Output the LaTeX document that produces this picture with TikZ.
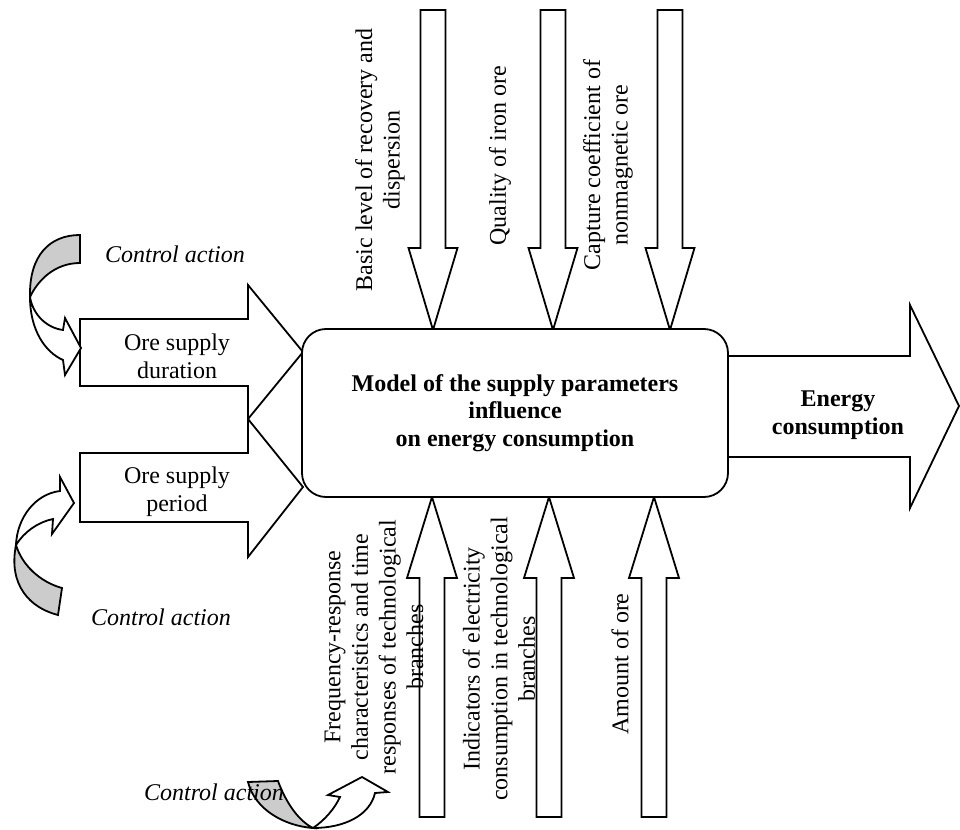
\documentclass[tikz,border=0pt]{standalone}
\usepackage{fontspec}
\setmainfont{Liberation Serif}
\usepackage{tikz}

\tikzset{
  block/.style={draw, fill=white, line width=0.9pt, line join=miter},
  curl/.style={draw, line width=0.9pt, line join=miter},
  lbl/.style={font=\fontsize{12}{13.8}\selectfont, align=center, inner sep=0pt},
  vlbl/.style={lbl, rotate=90},
  boldlbl/.style={lbl, font=\fontsize{12}{13.8}\selectfont\bfseries},
  ctrl/.style={font=\fontsize{12}{13.8}\selectfont\itshape, inner sep=0pt}
}

\begin{document}
\begin{tikzpicture}[x=0.5pt,y=-0.5pt]
\useasboundingbox (0,0) rectangle (960,830);
% Inputs from above
\foreach \x in {433,553,670}
  \draw[block] (\x-12.5,10) -- (\x+12.5,10) -- (\x+12.5,248) -- (\x+24.5,248) -- (\x,330) -- (\x-24.5,248) -- (\x-12.5,248) -- cycle;
% Inputs from below
\foreach \x in {432,549,654}
  \draw[block] (\x-12.5,817) -- (\x-12.5,578) -- (\x-25,578) -- (\x,497) -- (\x+25,578) -- (\x+12.5,578) -- (\x+12.5,817) -- cycle;
% Ore supply arrows
\draw[block] (80,319) -- (248,319) -- (248,285) -- (303,352) -- (248,419) -- (248,386) -- (80,386) -- cycle;
\draw[block] (80,453) -- (248,453) -- (248,419) -- (303,487) -- (248,557) -- (248,522) -- (80,522) -- cycle;
% Output
\draw[block] (728,356) -- (910,356) -- (910,305) -- (959,406) -- (910,508) -- (910,457) -- (728,457);
% Control actions
\draw[curl, fill=gray!40] (80,235) .. controls (50,235) and (29,255) .. (30,297) .. controls (38,280) and (55,263) .. (80,263) -- cycle;
\draw[curl, fill=white] (30,297) .. controls (33,315) and (47,328) .. (63,330) -- (65,318) -- (81,348) -- (65,375) -- (63,360) .. controls (45,352) and (30,330) .. (30,297) -- cycle;
\draw[curl, fill=gray!40] (16,545) .. controls (22,565) and (40,582) .. (62,588) -- (58,615) .. controls (30,608) and (8,585) .. (16,545) -- cycle;
\draw[curl, fill=white] (16,545) .. controls (17,518) and (35,494) .. (60,491) -- (60,477) -- (74,503) -- (52,534) -- (53,519) .. controls (38,522) and (24,532) .. (16,545) -- cycle;
\draw[curl, fill=gray!40] (248,782) -- (278,781) .. controls (285,800) and (297,820) .. (313,828) .. controls (285,826) and (255,810) .. (248,782) -- cycle;
\draw[curl, fill=white] (313,828) .. controls (325,820) and (335,808) .. (340,797) -- (328,795) -- (362,777) -- (388,792) -- (375,793) .. controls (370,815) and (345,828) .. (313,828) -- cycle;
% Model block
\node[draw, fill=white, line width=0.9pt, rounded corners=12pt, minimum width=213pt, minimum height=84pt, boldlbl] (model) at (515,413)
  {Model of the supply parameters\\influence\\on energy consumption};
% Labels
\node[vlbl] (recovery) at (380,160) {Basic level of recovery and\\dispersion};
\node[vlbl] (quality) at (500,156) {Quality of iron ore};
\node[vlbl] (capture) at (608,165) {Capture coefficient of\\nonmagnetic ore};
\node[vlbl] (freq) at (374,647) {Frequency-response\\characteristics and time\\responses of technological\\branches};
\node[vlbl] (indic) at (499,659) {Indicators of electricity\\consumption in technological\\branches};
\node[vlbl] (amount) at (620,664) {Amount of ore};
\node[lbl] (duration) at (177,356) {Ore supply\\duration};
\node[lbl] (period) at (177,492) {Ore supply\\period};
\node[boldlbl] (energy) at (838,415) {Energy\\consumption};
\node[ctrl] (ctrltop) at (175,254) {Control action};
\node[ctrl] (ctrlleft) at (161,617) {Control action};
\node[ctrl] (ctrlbot) at (214,792) {Control action};
\end{tikzpicture}
\end{document}
